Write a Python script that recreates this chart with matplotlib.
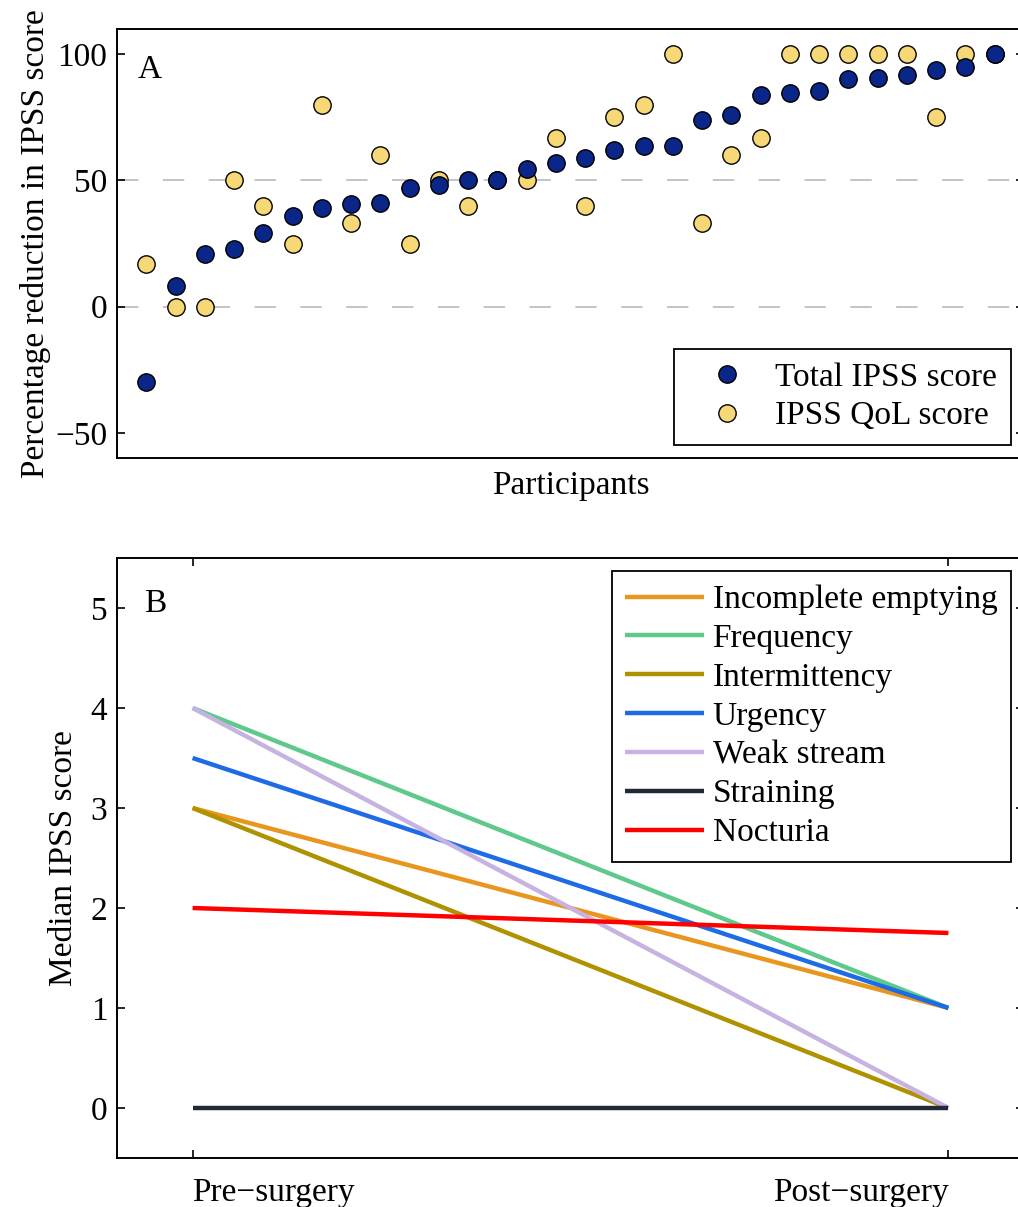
import matplotlib
matplotlib.use("Agg")
import matplotlib.pyplot as plt
import numpy as np

plt.rcParams['font.family'] = ['Liberation Serif', 'DejaVu Serif']
plt.rcParams['font.size'] = 24
plt.rcParams['axes.linewidth'] = 1.4

# Panel A: percentage reduction per participant
participants = np.arange(1, 31)
total_ipss = [-30, 8, 20.8, 23, 29.2, 35.8, 39, 40.7, 41.2, 47.1,
              48.3, 50, 50, 54.6, 57, 58.9, 61.9, 63.6, 63.6, 73.8,
              76, 83.9, 84.5, 85.6, 90, 90.6, 91.7, 93.7, 95.1, 100]
qol_ipss = [16.7, 0, 0, 50, 40, 25, 80, 33.3, 60, 25,
            50, 40, 50, 50, 66.7, 40, 75, 80, 100, 33.3,
            60, 66.7, 100, 100, 100, 100, 100, 75, 100, 100]

# Panel B: median symptom scores
timepoints = ["Pre\u2212surgery", "Post\u2212surgery"]
symptoms = ["Incomplete emptying", "Frequency", "Intermittency", "Urgency",
            "Weak stream", "Straining", "Nocturia"]
pre_scores = [3, 4, 3, 3.5, 4, 0, 2]
post_scores = [1, 1, 0, 1, 0, 0, 1.75]
line_colors = ["#E8961E", "#5EC98A", "#AE9200", "#1E6BE6",
               "#C6B3E2", "#222936", "#FF0000"]

fig = plt.figure(figsize=(10.18, 12.07), dpi=100)
W, H = 1018.0, 1207.0
axA = fig.add_axes([117 / W, 1 - 458 / H, 907 / W, 429 / H])
axB = fig.add_axes([117 / W, 1 - 1158 / H, 907 / W, 600 / H])

leg_kw = dict(fancybox=False, framealpha=1, edgecolor="black", borderaxespad=0.4,
              handlelength=2.36, handletextpad=0.27, labelspacing=0.25,
              borderpad=0.4)

# ---- A ----
for yv in [0, 50]:
    axA.axhline(yv, color="#b4b4b4", lw=1.1, dashes=(14, 16), zorder=1)
hq, = axA.plot(participants, qol_ipss, 'o', ms=12.5, mfc="#F6D877", mec="black",
               mew=1.0, zorder=3, label="IPSS QoL score")
ht, = axA.plot(participants, total_ipss, 'o', ms=12.5, mfc="#0B2689", mec="black",
               mew=1.0, zorder=4, label="Total IPSS score")
axA.set_xlim(0, 31)
axA.set_ylim(-60, 110)
axA.set_yticks([-50, 0, 50, 100])
axA.set_xticks([])
axA.tick_params(axis='y', direction='in', length=6, width=1.2, left=True, right=True, pad=7)
axA.set_xlabel("Participants", labelpad=9)
axA.set_ylabel("Percentage reduction in IPSS score", labelpad=3)
axA.text(0.023, 0.94, "A", transform=axA.transAxes, ha='left', va='top')
legA = axA.legend([ht, hq], ["Total IPSS score", "IPSS QoL score"], loc="lower right",
                  **leg_kw)
legA.get_frame().set_linewidth(1.3)

# ---- B ----
xpos = [1, 2]
for name, a, b, c in zip(symptoms, pre_scores, post_scores, line_colors):
    axB.plot(xpos, [a, b], color=c, lw=3.2, label=name, solid_capstyle='butt')
axB.set_xlim(0.9, 2.1)
axB.set_ylim(-0.5, 5.5)
axB.set_yticks([0, 1, 2, 3, 4, 5])
axB.set_xticks(xpos)
axB.set_xticklabels(timepoints)
lbls = axB.get_xticklabels()
lbls[0].set_ha('left')
lbls[1].set_ha('right')
axB.tick_params(axis='both', direction='in', length=6, width=1.2, left=True, right=True,
                top=True, bottom=True, pad=7)
axB.tick_params(axis='x', pad=14)
axB.set_ylabel("Median IPSS score", labelpad=8)
axB.text(0.03, 0.95, "B", transform=axB.transAxes, ha='left', va='top')
legB = axB.legend(loc="upper right", **leg_kw)
legB.get_frame().set_linewidth(1.3)

fig.savefig("out.png", dpi=100)
